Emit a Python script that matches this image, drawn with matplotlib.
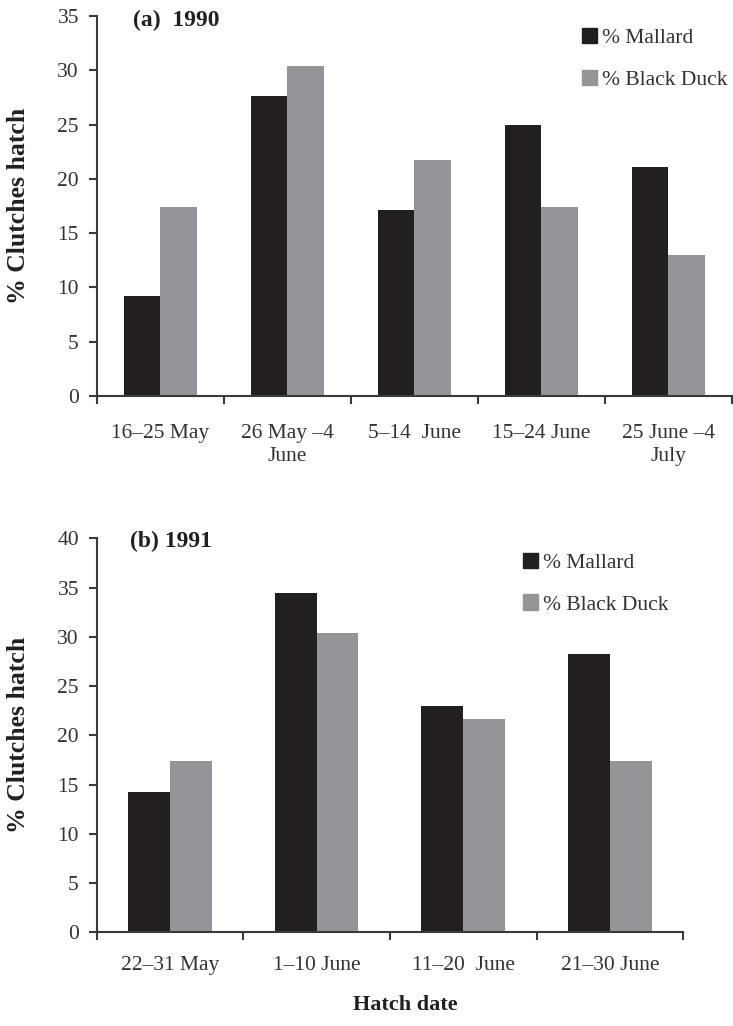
import numpy as np
import matplotlib
matplotlib.use('Agg')
import matplotlib.pyplot as plt
from matplotlib.patches import Patch

# Données
cats_1990 = ['16\u201325 May', '26 May \u20134\nJune', '5\u201314  June', '15\u201324 June', '25 June \u20134\nJuly']
mallard_1990 = [9.2, 27.6, 17.1, 25.0, 21.1]
black_1990 = [17.4, 30.4, 21.7, 17.4, 13.0]

cats_1991 = ['22\u201331 May', '1\u201310 June', '11\u201320  June', '21\u201330 June']
mallard_1991 = [14.2, 34.5, 23.0, 28.3]
black_1991 = [17.4, 30.4, 21.7, 17.4]

c_mallard = '#231f20'
c_black = '#939598'
txt = '#333333'
axc = '#3a3a3a'

plt.rcParams['font.family'] = ['Liberation Serif', 'DejaVu Serif']

fig = plt.figure(figsize=(7.33, 10.26), dpi=100)
ax1 = fig.add_axes([0.1323, 0.614, 0.8663, 0.3704])
ax2 = fig.add_axes([0.1323, 0.0913, 0.7995, 0.384])


def draw(ax, cats, m, b, ymax, title, title_y, pad):
    x = np.arange(len(cats))
    w = 0.285
    ax.bar(x - w / 2, m, w, color=c_mallard, label='% Mallard')
    ax.bar(x + w / 2, b, w, color=c_black, label='% Black Duck')
    ax.set_xlim(-0.5, len(cats) - 0.5)
    ax.set_ylim(0, ymax)
    ax.set_yticks(np.arange(0, ymax + 1, 5))
    ax.set_xticks(x)
    ax.set_xticklabels(cats, fontsize=15.5, color=txt, linespacing=1.3)
    ax.set_xticks(np.arange(len(cats) + 1) - 0.5, minor=True)
    ax.tick_params(axis='x', which='major', length=0, pad=pad)
    ax.tick_params(axis='x', which='minor', length=6, width=1.5, color=axc, direction='out')
    ax.tick_params(axis='y', length=6, width=1.5, color=axc, labelsize=15.5, labelcolor=txt, pad=7)
    for s in ['top', 'right']:
        ax.spines[s].set_visible(False)
    for s in ['left', 'bottom']:
        ax.spines[s].set_linewidth(1.5)
        ax.spines[s].set_color(axc)
    ax.text(0.057, title_y, title, transform=ax.transAxes, fontsize=17,
            fontweight='bold', color='#231f20', va='center', ha='left')
    ax.set_ylabel('% Clutches hatch', fontsize=18.5, fontweight='bold', color='#231f20')


draw(ax1, cats_1990, mallard_1990, black_1990, 35, '(a)  1990', 0.987, 20)
draw(ax2, cats_1991, mallard_1991, black_1991, 40, '(b) 1991', 0.991, 17)
ax1.yaxis.set_label_coords(-0.105, 0.5)
ax2.yaxis.set_label_coords(-0.114, 0.5)

handles = [Patch(color=c_mallard, label='% Mallard'), Patch(color=c_black, label='% Black Duck')]
for ax, anchor in [(ax1, (0.75, 0.99)), (ax2, (0.712, 0.985))]:
    ax.legend(handles=handles, loc='upper left', bbox_to_anchor=anchor, frameon=False,
              fontsize=15.5, handlelength=0.7, handleheight=0.7, handletextpad=0.25,
              labelspacing=1.0, labelcolor=txt, borderaxespad=0)

fig.text(0.553, 0.0205, 'Hatch date', fontsize=16, fontweight='bold', color='#231f20',
         ha='center', va='center')

plt.savefig('out.png', dpi=100)
plt.close()
